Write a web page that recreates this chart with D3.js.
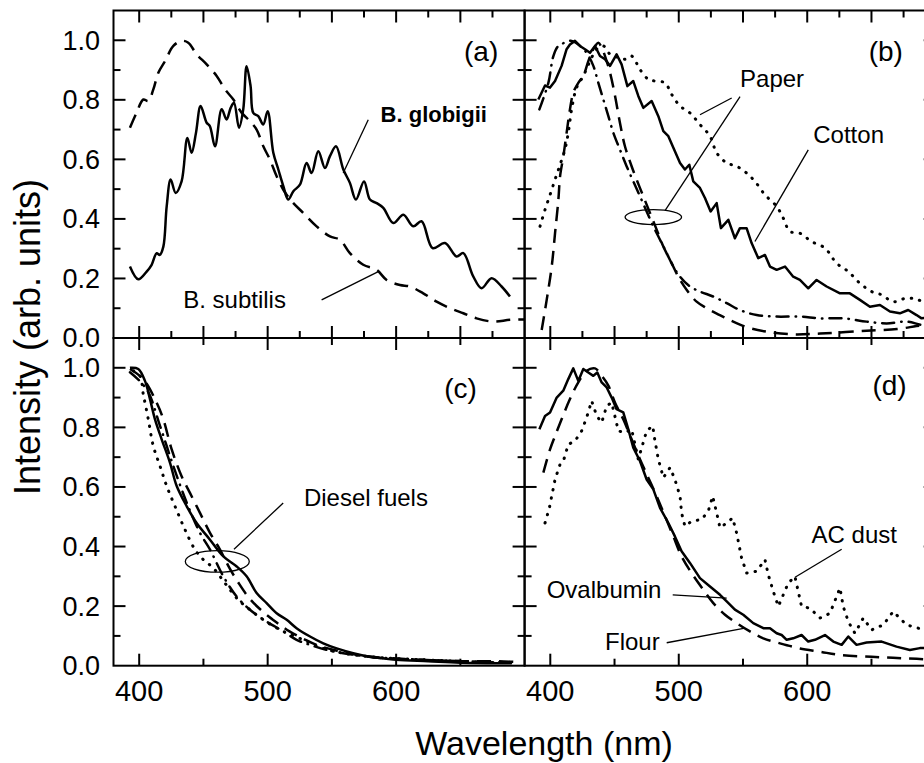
<!DOCTYPE html>
<html>
<head>
<meta charset="utf-8">
<script src="https://cdn.jsdelivr.net/npm/d3@7"></script>
<style>
body { margin: 0; background: #fff; }
svg { display: block; font-family: "Liberation Sans", Arial, Helvetica, sans-serif; }
</style>
</head>
<body>
<div id="chart"></div>
<script>
// ---- spectra, [wavelength nm, normalised intensity] ----
var globigii = [[392.8,.240],[399.3,.197],[405.8,.223],[409.7,.246],[413.6,.285],[416,.279],[418.8,.307],[421.4,.442],[424.5,.532],[428.4,.487],[433,.526],[437.5,.672],[440.8,.622],[444.2,.689],[447.8,.779],[452.5,.723],[455,.712],[459,.644],[464.2,.768],[468,.734],[471.2,.773],[473.8,.790],[477.7,.706],[481,.768],[483.6,.913],[486.7,.846],[488.8,.756],[492.7,.745],[496.6,.717],[500,.762],[504.4,.622],[508.3,.566],[512.2,.510],[516,.465],[520,.493],[525.1,.515],[530.3,.588],[534.2,.554],[539.4,.627],[544.6,.571],[548.5,.611],[553.2,.644],[558.9,.566],[564,.521],[568.7,.465],[575,.526],[579.6,.465],[584.8,.453],[590,.437],[597.8,.386],[605.6,.414],[613.3,.375],[619.8,.392],[628.4,.302],[638,.319],[647,.274],[652.3,.285],[660,.207],[666.5,.167],[674.3,.201],[682.1,.173],[688.6,.139]];
var subtilis = [[392.8,.706],[398,.757],[403.2,.801],[407.1,.796],[411,.835],[414.9,.891],[420.1,.930],[426.6,.981],[433,.998],[438.2,.992],[444.7,.953],[452.5,.919],[460.3,.880],[466.8,.835],[473.3,.801],[479.7,.757],[486.2,.728],[491.4,.700],[496.6,.644],[501.8,.599],[507,.543],[512.2,.498],[518.7,.459],[527.7,.420],[538.1,.375],[548.5,.341],[556.3,.330],[564,.285],[574.4,.246],[584.8,.229],[592.6,.195],[603,.178],[610.7,.173],[621.1,.150],[631.5,.122],[642,.100],[652.3,.083],[662.6,.066],[675.6,.055],[688.6,.061],[700,.062]];

var cotton = [[390.7,.801],[395.9,.848],[399.8,.841],[403.7,.863],[408.8,.914],[412.7,.970],[415.3,.986],[419.2,.998],[423.1,.981],[427,.970],[430.9,.958],[434.8,.981],[438.7,.947],[442.6,.936],[446.5,.914],[451.6,.953],[455.5,.919],[460,.846],[464.6,.863],[468.5,.813],[472.4,.773],[478.9,.796],[484.1,.745],[488,.695],[491.9,.678],[495.8,.639],[501,.588],[504.8,.566],[508.2,.582],[511.3,.526],[516.5,.504],[520.4,.470],[524.8,.425],[529.5,.453],[532.8,.369],[538.6,.397],[543.7,.335],[547.6,.369],[552.8,.369],[556.7,.319],[561.9,.268],[567.1,.279],[571,.240],[576.2,.229],[582.7,.240],[589.1,.206],[594.3,.195],[600.8,.167],[607.3,.195],[615.1,.173],[625.5,.150],[633.2,.150],[641,.128],[648.8,.105],[656.6,.111],[664.4,.089],[672.1,.083],[678.6,.094],[685.1,.077],[689,.066],[695,.070],[700,.060]];
var paperDot = [[392,.375],[395.9,.431],[399.8,.481],[403.7,.532],[407.6,.582],[411.4,.633],[414,.689],[416.6,.768],[420.5,.841],[425.7,.880],[430.9,.930],[436.1,.970],[441.3,.981],[446.5,.953],[453,.942],[458.1,.936],[463.3,.947],[469.8,.902],[476.3,.869],[481.5,.863],[489.3,.857],[494.5,.818],[501,.779],[508.7,.756],[516.5,.717],[524.3,.678],[529.5,.622],[537.3,.588],[545,.577],[552.8,.554],[559.3,.526],[567.1,.481],[576.2,.442],[581.3,.403],[586.5,.358],[594.3,.352],[603.4,.324],[613.8,.302],[622.9,.251],[632,.223],[641,.184],[650.1,.156],[657.9,.145],[667,.122],[677.3,.134],[686.4,.128],[700,.100]];
var paperDash = [[393.3,.027],[397.2,.128],[401.1,.240],[403.7,.352],[406.3,.465],[407.6,.543],[410.2,.611],[412.7,.689],[415.3,.768],[417.9,.824],[421.8,.857],[425.7,.880],[429.6,.930],[433.5,.970],[437.4,.992],[440,.975],[442.6,.947],[446.5,.891],[450.4,.813],[454.2,.723],[458.1,.644],[463.3,.577],[467.2,.532],[472.4,.476],[477.6,.420],[482.8,.364],[488,.307],[494.5,.251],[499.6,.206],[506.1,.162],[513.9,.122],[521.7,.100],[532,.077],[542.4,.055],[555.4,.033],[570,.020],[590,.012],[610,.015],[630,.020],[650,.025],[670,.030],[685,.040],[700,.050]];
var paperDashDot = [[391.5,.768],[398.5,.857],[402.4,.947],[406.3,.981],[411.4,.992],[416.6,.998],[423.1,.981],[428.3,.958],[433.5,.914],[437.4,.857],[441.3,.801],[445.2,.745],[449.1,.689],[454.2,.633],[459.4,.577],[464.6,.526],[469.8,.476],[475,.425],[480.2,.375],[485.4,.330],[490.6,.285],[495.8,.240],[501,.206],[508.7,.173],[516.5,.156],[526.9,.139],[537.3,.117],[547.6,.094],[560.6,.077],[576.2,.072],[594.3,.072],[610,.066],[628,.066],[646.2,.055],[661.8,.049],[677.3,.055],[689,.044],[700,.040]];

var dieselSolid = [[392.8,1.0],[399.3,.996],[404.5,.956],[408.4,.895],[412.3,.827],[417.5,.760],[424,.681],[429.2,.603],[437,.535],[444.7,.479],[455.1,.423],[465.5,.367],[475.9,.333],[483.6,.300],[491.4,.244],[499.2,.210],[507,.176],[514.8,.154],[522.5,.126],[533,.098],[543.3,.075],[553.7,.058],[566.6,.042],[579.6,.030],[600,.020],[625,.015],[650,.010],[690,.008]];
var dieselDash = [[392.8,.996],[403.2,.962],[413.6,.883],[418.8,.827],[425.3,.726],[433,.636],[439.5,.580],[447.3,.513],[455.1,.446],[462.9,.390],[470,.330],[477,.280],[486,.225],[496.6,.180],[507,.145],[517,.115],[528,.090],[538,.070],[554,.050],[567,.038],[590,.025],[620,.020],[650,.015],[680,.015],[695,.012]];
var dieselDot = [[395.5,.990],[400.6,.973],[403.2,.911],[407.1,.827],[411,.737],[416.2,.670],[421.4,.603],[427.9,.535],[435.6,.457],[443.4,.390],[449.9,.356],[457.7,.328],[466.8,.277],[477.2,.221],[486.2,.188],[496.6,.154],[512.2,.115],[527.7,.087],[543.3,.058],[558.9,.042],[580,.030],[620,.020],[680,.010]];
var dieselDashDot = [[392.8,.985],[405.8,.928],[416.2,.805],[426.6,.670],[437,.547],[447.3,.446],[455.1,.390],[465.5,.300],[475.9,.232],[486.2,.188],[499.2,.148],[512.2,.115],[522.5,.087],[533,.070],[545.9,.053],[558.9,.042],[580,.030],[620,.020],[690,.010]];

var ovalbumin = [[391.5,.794],[395.9,.838],[399.8,.850],[405,.900],[410.1,.923],[414,.962],[417.9,.998],[421.8,.956],[425.7,.996],[429.6,.984],[433.5,.973],[436.6,.984],[440,.951],[443.9,.934],[447.8,.900],[451.6,.861],[456.8,.850],[460.7,.794],[464.6,.732],[469.8,.687],[475,.625],[480.2,.592],[485.4,.530],[491.9,.479],[497,.434],[502.2,.384],[508.7,.345],[516.5,.294],[524.3,.266],[532.1,.238],[537.3,.216],[543.7,.188],[550.2,.171],[558,.143],[565.8,.126],[571,.126],[576.2,.109],[580.1,.103],[584,.087],[589.1,.092],[595.6,.103],[600.8,.081],[606,.087],[613.8,.103],[620.3,.081],[626.8,.070],[632,.098],[638.4,.070],[646.2,.078],[657.9,.081],[669.5,.064],[679.9,.053],[687.7,.059],[700,.060]];
var flour = [[394.6,.648],[399.8,.726],[403.7,.771],[408.8,.827],[415.3,.895],[421.8,.951],[428.3,.990],[434.8,.998],[440,.973],[445.2,.940],[450.4,.883],[456.8,.827],[463.3,.760],[469.8,.693],[476.3,.631],[482.8,.569],[489.3,.502],[495.8,.434],[502.2,.367],[510,.311],[519.1,.255],[526.9,.210],[536,.171],[545,.143],[555.4,.115],[565.8,.092],[578.8,.075],[594.3,.058],[610,.047],[625.5,.036],[650,.030],[675,.025],[700,.020]];
var acDust = [[395.9,.479],[399.3,.530],[403.7,.625],[407.6,.676],[410.2,.687],[414,.743],[419.2,.754],[424.4,.788],[428.3,.833],[432.2,.889],[436.1,.839],[440,.816],[443.9,.872],[447.8,.883],[453,.788],[458.1,.782],[463.3,.794],[468.5,.693],[475,.788],[479.7,.805],[481.5,.754],[484.1,.693],[488,.631],[493.2,.665],[497,.625],[501,.569],[502.2,.513],[504.8,.468],[510,.485],[517.8,.491],[523,.519],[526.4,.569],[529.5,.513],[532.1,.463],[537.3,.479],[541.9,.496],[545,.446],[548.9,.362],[552.8,.311],[560.6,.317],[567.1,.356],[569.7,.305],[573.6,.249],[577.5,.199],[585.2,.277],[590.4,.300],[593,.249],[595.6,.199],[602.1,.193],[609.9,.160],[617.7,.176],[625.5,.261],[628,.199],[632,.148],[637.1,.109],[643.6,.160],[650.1,.120],[659.2,.137],[666.9,.182],[677.3,.137],[686.4,.126],[700,.100]];

// axis ticks
var xTicksTop = { major: [400, 450, 500, 550, 600, 650], minor: [425, 475, 525, 575, 625, 675] };
var xTicksBottom = { major: [400, 500, 600], minor: [450, 550, 650] };
var xLabels = [400, 500, 600];
var yMajor = [0.2, 0.4, 0.6, 0.8, 1.0];
var yMinor = [0.1, 0.3, 0.5, 0.7, 0.9];
var yLabels = [0, 0.2, 0.4, 0.6, 0.8, 1.0];

var styles = {
  solid:   { w: 2.5, dash: null, cap: "butt" },
  dash:    { w: 2.5, dash: "14,8", cap: "butt" },
  dot:     { w: 3,   dash: "0.5,8", cap: "round" },
  dashdot: { w: 2.5, dash: "12,7,0.5,7", cap: "round" }
};

// jagged spectra are drawn with straight segments, smooth ones with a spline
var smooth = d3.curveCatmullRom.alpha(0.5), jagged = d3.curveLinear;

var panels = [
  { id: "a", xr: [113.5, 524.6], yr: [338, 10.5], ticks: xTicksTop, left: true, bottom: false,
    series: [[globigii, "solid", smooth], [subtilis, "dash", smooth]],
    texts: [["(a)", 679.5, .93, "end", 28, "normal"], ["B. globigii", 587.9, .726, "start", 22, "bold"], ["B. subtilis", 434.3, .101, "start", 24, "normal"]],
    leaders: [[578.3, .733, 558.8, .554], [542, .128, 586.1, .223]],
    ellipses: [] },
  { id: "b", xr: [524.6, 935.7], yr: [338, 10.5], ticks: xTicksTop, left: false, bottom: false,
    series: [[cotton, "solid", jagged], [paperDot, "dot", smooth], [paperDash, "dash", smooth], [paperDashDot, "dashdot", smooth]],
    texts: [["(b)", 674.5, .93, "end", 28, "normal"], ["Paper", 547.7, .844, "start", 24, "normal"], ["Cotton", 604.7, .655, "start", 24, "normal"]],
    leaders: [[541.2, .806, 516.5, .750], [547.7, .811, 489.3, .428], [600.8, .632, 559.3, .324]],
    ellipses: [[480.2, .406, 22, .025]] },
  { id: "c", xr: [113.5, 524.6], yr: [665.7, 338], ticks: xTicksBottom, left: true, bottom: true,
    series: [[dieselSolid, "solid", smooth], [dieselDash, "dash", smooth], [dieselDot, "dot", smooth], [dieselDashDot, "dashdot", smooth]],
    texts: [["(c)", 662.9, .90, "end", 28, "normal"], ["Diesel fuels", 528.2, .537, "start", 24, "normal"]],
    leaders: [[512.1, .546, 473.8, .391]],
    ellipses: [[460.8, .350, 24.9, .036]] },
  { id: "d", xr: [524.6, 935.7], yr: [665.7, 338], ticks: xTicksBottom, left: false, bottom: true,
    series: [[ovalbumin, "solid", jagged], [flour, "dash", smooth], [acDust, "dot", jagged]],
    texts: [["(d)", 677.4, .907, "end", 28, "normal"], ["AC dust", 603.4, .412, "start", 24, "normal"], ["Ovalbumin", 397.2, .227, "start", 24, "normal"], ["Flour", 442.6, .053, "start", 24, "normal"]],
    leaders: [[626.8, .391, 590.5, .297], [495.3, .238, 537.3, .227], [490.6, .077, 551.5, .126]],
    ellipses: [] }
];

var svg = d3.select("#chart").append("svg")
    .attr("width", 924)
    .attr("height", 763);

var defs = svg.append("defs");

var majorLen = 12, minorLen = 7;

panels.forEach(function(p) {
  var xs = d3.scaleLinear().domain([380, 700]).range(p.xr);
  var ys = d3.scaleLinear().domain([0, 1.1]).range(p.yr);
  var g = svg.append("g").attr("class", "panel-" + p.id);

  defs.append("clipPath").attr("id", "clip-" + p.id)
    .append("rect")
      .attr("x", xs(380)).attr("y", ys(1.1))
      .attr("width", xs(700) - xs(380)).attr("height", ys(0) - ys(1.1));

  var plot = g.append("g").attr("clip-path", "url(#clip-" + p.id + ")");
  p.series.forEach(function(s) {
    var st = styles[s[1]];
    var line = d3.line()
        .x(function(d) { return xs(d[0]); })
        .y(function(d) { return ys(d[1]); })
        .curve(s[2]);
    plot.append("path")
        .datum(s[0])
        .attr("d", line)
        .attr("fill", "none")
        .attr("stroke", "#000")
        .attr("stroke-width", st.w)
        .attr("stroke-linecap", st.cap)
        .attr("stroke-linejoin", "round")
        .attr("stroke-dasharray", st.dash);
  });

  // frame
  g.append("rect")
      .attr("x", xs(380)).attr("y", ys(1.1))
      .attr("width", xs(700) - xs(380)).attr("height", ys(0) - ys(1.1))
      .attr("fill", "none").attr("stroke", "#000").attr("stroke-width", 2);

  // ticks, all pointing inward
  var tk = g.append("g").attr("stroke", "#000").attr("stroke-width", 2);
  function xt(vals, len) {
    vals.forEach(function(v) {
      tk.append("line").attr("x1", xs(v)).attr("x2", xs(v)).attr("y1", ys(0)).attr("y2", ys(0) - len);
      tk.append("line").attr("x1", xs(v)).attr("x2", xs(v)).attr("y1", ys(1.1)).attr("y2", ys(1.1) + len);
    });
  }
  function yt(vals, len) {
    vals.forEach(function(v) {
      tk.append("line").attr("x1", xs(380)).attr("x2", xs(380) + len).attr("y1", ys(v)).attr("y2", ys(v));
      tk.append("line").attr("x1", xs(700)).attr("x2", xs(700) - len).attr("y1", ys(v)).attr("y2", ys(v));
    });
  }
  xt(p.ticks.major, majorLen);
  xt(p.ticks.minor, minorLen);
  yt(yMajor, majorLen);
  yt(yMinor, minorLen);

  if (p.left) {
    g.selectAll(".ylab")
        .data(yLabels)
      .enter().append("text")
        .attr("x", xs(380) - 13.5)
        .attr("y", function(d) { return ys(d); })
        .attr("dy", "0.35em")
        .attr("text-anchor", "end")
        .attr("font-size", 27)
        .text(d3.format(".1f"));
  }
  if (p.bottom) {
    g.selectAll(".xlab")
        .data(xLabels)
      .enter().append("text")
        .attr("x", function(d) { return xs(d); })
        .attr("y", ys(0) + 14)
        .attr("dy", "0.72em")
        .attr("text-anchor", "middle")
        .attr("font-size", 29)
        .text(function(d) { return d; });
  }

  // annotations
  p.leaders.forEach(function(l) {
    g.append("line")
        .attr("x1", xs(l[0])).attr("y1", ys(l[1]))
        .attr("x2", xs(l[2])).attr("y2", ys(l[3]))
        .attr("stroke", "#000").attr("stroke-width", 1.3);
  });
  p.ellipses.forEach(function(e) {
    g.append("ellipse")
        .attr("cx", xs(e[0])).attr("cy", ys(e[1]))
        .attr("rx", xs(e[0] + e[2]) - xs(e[0]))
        .attr("ry", ys(0) - ys(e[3]))
        .attr("fill", "none").attr("stroke", "#000").attr("stroke-width", 1.3);
  });
  p.texts.forEach(function(t) {
    g.append("text")
        .attr("x", xs(t[1])).attr("y", ys(t[2]))
        .attr("text-anchor", t[3])
        .attr("font-size", t[4])
        .attr("font-weight", t[5])
        .text(t[0]);
  });
});

svg.append("text")
    .attr("transform", "translate(40,337) rotate(-90)")
    .attr("text-anchor", "middle")
    .attr("font-size", 36)
    .text("Intensity (arb. units)");

svg.append("text")
    .attr("x", 544)
    .attr("y", 755)
    .attr("text-anchor", "middle")
    .attr("font-size", 34)
    .text("Wavelength (nm)");
</script>
</body>
</html>
